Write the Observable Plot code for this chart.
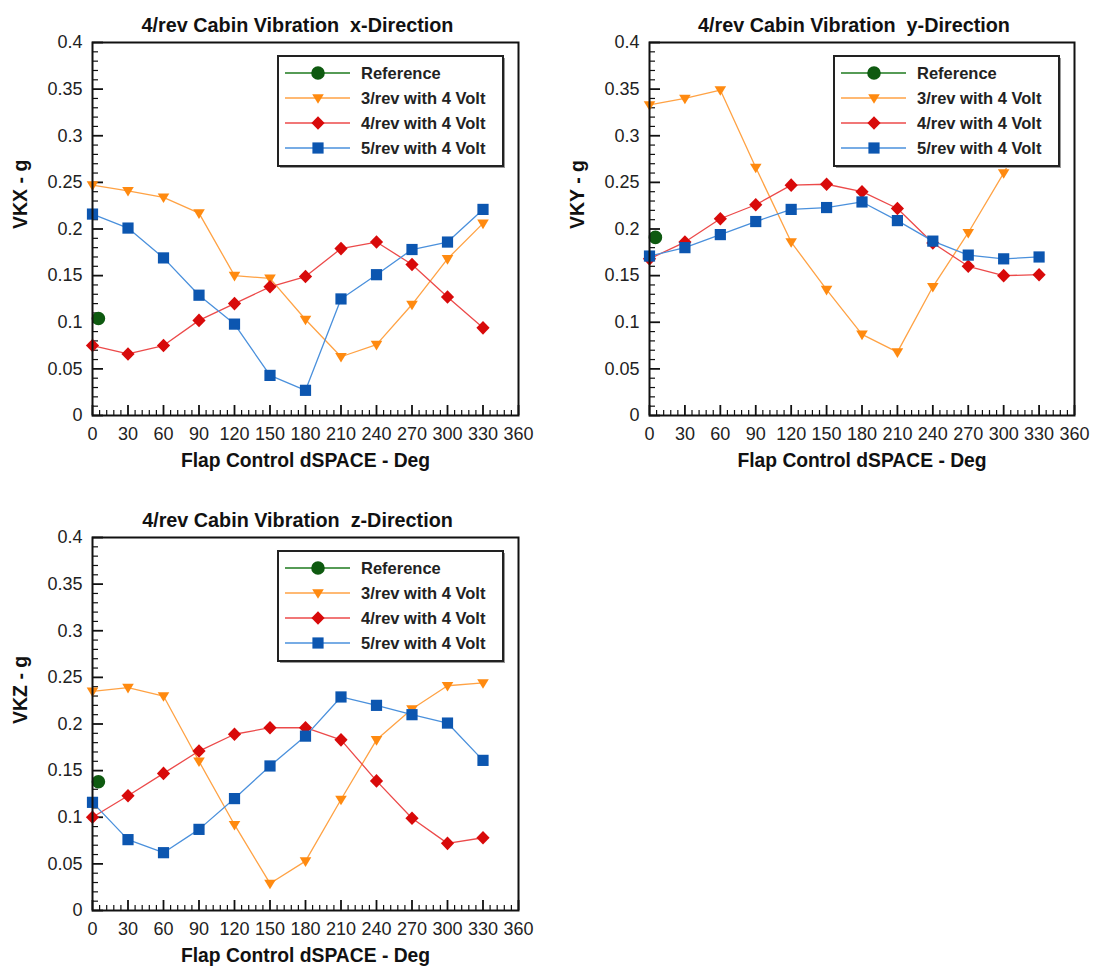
<!DOCTYPE html>
<html>
<head>
<meta charset="utf-8">
<script src="https://cdn.jsdelivr.net/npm/d3@7"></script>
<script src="https://cdn.jsdelivr.net/npm/@observablehq/plot@0.6"></script>
<style>
  html, body { margin: 0; padding: 0; background: #fff; }
  #wrap { position: relative; width: 1096px; height: 972px; background: #fff; }
  .panel { position: absolute; }
</style>
</head>
<body>
<div id="wrap"></div>
<script>
// ---------------- data ----------------
const angles = [0, 30, 60, 90, 120, 150, 180, 210, 240, 270, 300, 330];
const refAngle = 5;

const seriesNames = ["Reference", "3/rev with 4 Volt", "4/rev with 4 Volt", "5/rev with 4 Volt"];

// x-Direction
const vkx3 = [0.247, 0.241, 0.234, 0.217, 0.150, 0.147, 0.103, 0.063, 0.076, 0.119, 0.168, 0.206];
const vkx4 = [0.075, 0.066, 0.075, 0.102, 0.120, 0.138, 0.149, 0.179, 0.186, 0.162, 0.127, 0.094];
const vkx5 = [0.216, 0.201, 0.169, 0.129, 0.098, 0.043, 0.027, 0.125, 0.151, 0.178, 0.186, 0.221];
const vkxRef = 0.104;

// y-Direction
const vky3 = [0.333, 0.340, 0.349, 0.266, 0.186, 0.135, 0.087, 0.068, 0.138, 0.196, 0.260, 0.330];
const vky4 = [0.168, 0.186, 0.211, 0.226, 0.247, 0.248, 0.240, 0.222, 0.185, 0.160, 0.150, 0.151];
const vky5 = [0.171, 0.180, 0.194, 0.208, 0.221, 0.223, 0.229, 0.209, 0.187, 0.172, 0.168, 0.170];
const vkyRef = 0.191;

// z-Direction
const vkz3 = [0.235, 0.239, 0.230, 0.160, 0.092, 0.029, 0.053, 0.119, 0.183, 0.216, 0.241, 0.244];
const vkz4 = [0.100, 0.123, 0.147, 0.171, 0.189, 0.196, 0.196, 0.183, 0.139, 0.099, 0.072, 0.078];
const vkz5 = [0.116, 0.076, 0.062, 0.087, 0.120, 0.155, 0.187, 0.229, 0.220, 0.210, 0.201, 0.161];
const vkzRef = 0.138;

// ticks
const xTickLabels = [0, 30, 60, 90, 120, 150, 180, 210, 240, 270, 300, 330, 360];
const yTickLabels = [0, 0.05, 0.1, 0.15, 0.2, 0.25, 0.3, 0.35, 0.4];
const xMinor = d3.range(0, 361, 6).filter(v => v % 30 !== 0);
const yMinor = d3.range(0, 41, 1).filter(v => v % 5 !== 0).map(v => v / 100);

// ---------------- styles ----------------
const lineColors = ["#1e7a1e", "#ffa244", "#ec4a4a", "#4a90dc"];
const markColors = ["#0e5a10", "#ff8a10", "#d80a0a", "#0c56b0"];

const symTriDown = { draw(c) { c.moveTo(-5.8, -3.8); c.lineTo(5.8, -3.8); c.lineTo(0, 5.8); c.closePath(); } };
const symDiamond = { draw(c) { c.moveTo(0, -6.8); c.lineTo(6.6, 0); c.lineTo(0, 6.8); c.lineTo(-6.6, 0); c.closePath(); } };
const symSquare  = { draw(c) { c.rect(-5.6, -5.6, 11.2, 11.2); } };
const symCircle  = { draw(c) { c.moveTo(6.8, 0); c.arc(0, 0, 6.8, 0, 2 * Math.PI); } };
const symbols = [symCircle, symTriDown, symDiamond, symSquare];

const FONT = "'Liberation Sans', Arial, Helvetica, sans-serif";

function makePanel({title, ylabel, s3, s4, s5, ref, left, top, width, height, mt, ml, mr, mb}) {
  const innerW = width - ml - mr;
  const innerH = height - mt - mb;
  const series = [s3, s4, s5].map((vals, k) => angles.map((a, i) => ({x: a, y: vals[i], k: k + 1})));
  const refData = [{x: refAngle, y: ref}];

  const marks = [
    Plot.ruleX(xMinor, {x: d => d, stroke: "#111", strokeWidth: 1.2, insetTop: innerH - 5}),
    Plot.ruleX(xTickLabels, {x: d => d, stroke: "#111", strokeWidth: 1.8, insetTop: innerH - 10}),
    Plot.ruleY(yMinor, {y: d => d, stroke: "#111", strokeWidth: 1.2, insetRight: innerW - 6}),
    Plot.ruleY(yTickLabels, {y: d => d, stroke: "#111", strokeWidth: 1.8, insetRight: innerW - 11}),
    Plot.axisX({ticks: xTickLabels, tickSize: 0, tickPadding: 12, fontSize: 18, label: null, tickFormat: d => String(d), fill: "#222"}),
    Plot.axisY({ticks: yTickLabels, tickSize: 0, tickPadding: 10, fontSize: 18, label: null, tickFormat: d => String(d), fill: "#222"}),
  ];
  series.forEach((data, j) => {
    const k = j + 1;
    marks.push(Plot.line(data, {x: "x", y: "y", stroke: lineColors[k], strokeWidth: 1.3}));
    marks.push(Plot.dot(data, {x: "x", y: "y", symbol: symbols[k], fill: markColors[k], r: 5}));
  });
  marks.push(Plot.dot(refData, {x: "x", y: "y", symbol: symbols[0], fill: markColors[0], r: 5}));
  marks.push(Plot.frame({stroke: "#111", strokeWidth: 2}));
  marks.push(Plot.text([title], {frameAnchor: "top", dy: -25, dx: -8, text: d => d, fontWeight: "bold", fontSize: 19.8, fill: "#111"}));
  marks.push(Plot.text(["Flap Control dSPACE - Deg"], {frameAnchor: "bottom", dy: 51, text: d => d, fontWeight: "bold", fontSize: 19.3, fill: "#111"}));
  marks.push(Plot.text([ylabel], {frameAnchor: "left", dx: -72, rotate: -90, text: d => d, fontWeight: "bold", fontSize: 19.5, fill: "#111"}));

  const svg = Plot.plot({
    width, height,
    marginTop: mt, marginLeft: ml, marginRight: mr, marginBottom: mb,
    x: {domain: [0, 360], label: null},
    y: {domain: [0, 0.4], label: null},
    style: {fontFamily: FONT, fontSize: "18px", color: "#222", background: "white", overflow: "visible"},
    marks
  });

  // legend (drawn on top of the plot area)
  const g = d3.select(svg).append("g").attr("font-family", FONT).attr("text-anchor", "start");
  const bw = 225, bh = 110;
  const bx = width - mr - 240, by = mt + 14;
  g.append("rect").attr("x", bx + 2).attr("y", by + 2).attr("width", bw).attr("height", bh)
    .attr("fill", "#999");
  g.append("rect").attr("x", bx).attr("y", by).attr("width", bw).attr("height", bh)
    .attr("fill", "white").attr("stroke", "#222").attr("stroke-width", 2);
  seriesNames.forEach((name, i) => {
    const ry = by + 17 + i * 25;
    g.append("line").attr("x1", bx + 7).attr("x2", bx + 72).attr("y1", ry).attr("y2", ry)
      .attr("stroke", lineColors[i]).attr("stroke-width", 1.3);
    g.append("path").attr("d", d3.symbol(symbols[i])()).attr("transform", `translate(${bx + 40},${ry})`)
      .attr("fill", markColors[i]);
    g.append("text").attr("x", bx + 83).attr("y", ry).attr("dy", "0.35em").attr("text-anchor", "start")
      .attr("font-size", 16.5).attr("font-weight", "bold").attr("fill", "#222").text(name);
  });

  const div = document.createElement("div");
  div.className = "panel";
  div.style.left = left + "px";
  div.style.top = top + "px";
  div.appendChild(svg);
  document.getElementById("wrap").appendChild(div);
}

makePanel({title: "4/rev Cabin Vibration  x-Direction", ylabel: "VKX - g", s3: vkx3, s4: vkx4, s5: vkx5, ref: vkxRef,
  left: 0, top: 0, width: 548, height: 490, mt: 42, ml: 92, mr: 30, mb: 75});
makePanel({title: "4/rev Cabin Vibration  y-Direction", ylabel: "VKY - g", s3: vky3, s4: vky4, s5: vky5, ref: vkyRef,
  left: 548, top: 0, width: 548, height: 490, mt: 42, ml: 101, mr: 22, mb: 75});
makePanel({title: "4/rev Cabin Vibration  z-Direction", ylabel: "VKZ - g", s3: vkz3, s4: vkz4, s5: vkz5, ref: vkzRef,
  left: 0, top: 495, width: 548, height: 477, mt: 42, ml: 92, mr: 30, mb: 62});
</script>
</body>
</html>
